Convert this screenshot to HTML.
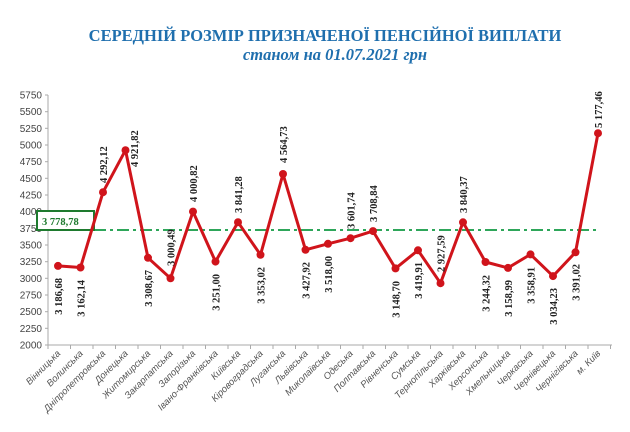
<!DOCTYPE html>
<html><head><meta charset="utf-8"><style>
html,body{margin:0;padding:0;background:#fff;width:630px;height:432px;overflow:hidden}
svg{display:block}
.t{font-family:"Liberation Serif",serif;font-weight:bold;fill:#1f6fae;text-anchor:middle}
.yl{font-family:"Liberation Sans",sans-serif;font-size:10px;fill:#444;text-anchor:end}
.xl{font-family:"Liberation Sans",sans-serif;font-size:9.5px;font-style:italic;fill:#555;text-anchor:end}
.v{font-family:"Liberation Serif",serif;font-size:10.5px;font-weight:bold;fill:#222}
</style></head><body>
<svg width="630" height="432" viewBox="0 0 630 432">
<text class="t" x="325" y="41" font-size="16.5">СЕРЕДНІЙ РОЗМІР ПРИЗНАЧЕНОЇ ПЕНСІЙНОЇ ВИПЛАТИ</text>
<text class="t" x="335" y="60" font-size="16.5" font-style="italic">станом на 01.07.2021 грн</text>

<g stroke="#aaa" stroke-width="1">
<line x1="48" y1="95" x2="48" y2="345"/>
<line x1="48" y1="345" x2="612" y2="345"/>
<line x1="45" y1="95" x2="48" y2="95"/><line x1="45" y1="111.7" x2="48" y2="111.7"/><line x1="45" y1="128.3" x2="48" y2="128.3"/><line x1="45" y1="145" x2="48" y2="145"/><line x1="45" y1="161.7" x2="48" y2="161.7"/><line x1="45" y1="178.3" x2="48" y2="178.3"/><line x1="45" y1="195" x2="48" y2="195"/><line x1="45" y1="211.7" x2="48" y2="211.7"/><line x1="45" y1="228.3" x2="48" y2="228.3"/><line x1="45" y1="245" x2="48" y2="245"/><line x1="45" y1="261.7" x2="48" y2="261.7"/><line x1="45" y1="278.3" x2="48" y2="278.3"/><line x1="45" y1="295" x2="48" y2="295"/><line x1="45" y1="311.7" x2="48" y2="311.7"/><line x1="45" y1="328.3" x2="48" y2="328.3"/><line x1="45" y1="345" x2="48" y2="345"/>
</g>
<g stroke="#aaa" stroke-width="1">
<line x1="48" y1="345" x2="48" y2="349"/><line x1="70.5" y1="345" x2="70.5" y2="349"/><line x1="93" y1="345" x2="93" y2="349"/><line x1="115.5" y1="345" x2="115.5" y2="349"/><line x1="138" y1="345" x2="138" y2="349"/><line x1="160.5" y1="345" x2="160.5" y2="349"/><line x1="183" y1="345" x2="183" y2="349"/><line x1="205.5" y1="345" x2="205.5" y2="349"/><line x1="228" y1="345" x2="228" y2="349"/><line x1="250.5" y1="345" x2="250.5" y2="349"/><line x1="273" y1="345" x2="273" y2="349"/><line x1="295.5" y1="345" x2="295.5" y2="349"/><line x1="318" y1="345" x2="318" y2="349"/><line x1="340.5" y1="345" x2="340.5" y2="349"/><line x1="363" y1="345" x2="363" y2="349"/><line x1="385.5" y1="345" x2="385.5" y2="349"/><line x1="408" y1="345" x2="408" y2="349"/><line x1="430.5" y1="345" x2="430.5" y2="349"/><line x1="453" y1="345" x2="453" y2="349"/><line x1="475.5" y1="345" x2="475.5" y2="349"/><line x1="498" y1="345" x2="498" y2="349"/><line x1="520.5" y1="345" x2="520.5" y2="349"/><line x1="543" y1="345" x2="543" y2="349"/><line x1="565.5" y1="345" x2="565.5" y2="349"/><line x1="588" y1="345" x2="588" y2="349"/><line x1="610.5" y1="345" x2="610.5" y2="349"/>
</g>
<g class="yl">
<text x="42" y="98.5">5750</text><text x="42" y="115.2">5500</text><text x="42" y="131.8">5250</text><text x="42" y="148.5">5000</text><text x="42" y="165.2">4750</text><text x="42" y="181.8">4500</text><text x="42" y="198.5">4250</text><text x="42" y="215.2">4000</text><text x="42" y="231.8">3750</text><text x="42" y="248.5">3500</text><text x="42" y="265.2">3250</text><text x="42" y="281.8">3000</text><text x="42" y="298.5">2750</text><text x="42" y="315.2">2500</text><text x="42" y="331.8">2250</text><text x="42" y="348.5">2000</text>
</g>

<line x1="48" y1="230" x2="600" y2="230" stroke="#2ea65a" stroke-width="2" stroke-dasharray="12,4,3,4"/>
<rect x="37" y="211" width="57" height="19" fill="#fff" stroke="#1e7a2e" stroke-width="2"/>
<text x="42" y="225" font-family="Liberation Serif,serif" font-size="10.5" font-weight="bold" fill="#1e7a2e">3 778,78</text>

<polyline fill="none" stroke="#d0141b" stroke-width="3" stroke-linejoin="round" points="58,265.9 80.5,267.5 103,192.2 125.5,150.2 148,257.8 170.5,278.3 193,211.6 215.5,261.6 238,222.2 260.5,254.8 283,174 305.5,249.8 328,243.8 350.5,238.2 373,231.1 395.5,268.4 418,250.3 440.5,283.2 463,222.3 485.5,262 508,267.9 530.5,254.4 553,276.1 575.5,252.3 598,133.2"/>
<g fill="#d0141b">
<circle cx="58" cy="265.9" r="4"/><circle cx="80.5" cy="267.5" r="4"/><circle cx="103" cy="192.2" r="4"/><circle cx="125.5" cy="150.2" r="4"/><circle cx="148" cy="257.8" r="4"/><circle cx="170.5" cy="278.3" r="4"/><circle cx="193" cy="211.6" r="4"/><circle cx="215.5" cy="261.6" r="4"/><circle cx="238" cy="222.2" r="4"/><circle cx="260.5" cy="254.8" r="4"/><circle cx="283" cy="174" r="4"/><circle cx="305.5" cy="249.8" r="4"/><circle cx="328" cy="243.8" r="4"/><circle cx="350.5" cy="238.2" r="4"/><circle cx="373" cy="231.1" r="4"/><circle cx="395.5" cy="268.4" r="4"/><circle cx="418" cy="250.3" r="4"/><circle cx="440.5" cy="283.2" r="4"/><circle cx="463" cy="222.3" r="4"/><circle cx="485.5" cy="262" r="4"/><circle cx="508" cy="267.9" r="4"/><circle cx="530.5" cy="254.4" r="4"/><circle cx="553" cy="276.1" r="4"/><circle cx="575.5" cy="252.3" r="4"/><circle cx="598" cy="133.2" r="4"/>
</g>

<g class="v">
<text transform="translate(62,278) rotate(-90)" text-anchor="end">3 186,68</text>
<text transform="translate(84.5,280) rotate(-90)" text-anchor="end">3 162,14</text>
<text transform="translate(107,183) rotate(-90)" text-anchor="start">4 292,12</text>
<text transform="translate(138,167) rotate(-90)" text-anchor="start">4 921,82</text>
<text transform="translate(152,270) rotate(-90)" text-anchor="end">3 308,67</text>
<text transform="translate(174.5,266) rotate(-90)" text-anchor="start">3 000,49</text>
<text transform="translate(197,202) rotate(-90)" text-anchor="start">4 000,82</text>
<text transform="translate(219.5,274) rotate(-90)" text-anchor="end">3 251,00</text>
<text transform="translate(242,213) rotate(-90)" text-anchor="start">3 841,28</text>
<text transform="translate(264.5,267) rotate(-90)" text-anchor="end">3 353,02</text>
<text transform="translate(287,163) rotate(-90)" text-anchor="start">4 564,73</text>
<text transform="translate(309.5,262) rotate(-90)" text-anchor="end">3 427,92</text>
<text transform="translate(332,256) rotate(-90)" text-anchor="end">3 518,00</text>
<text transform="translate(354.5,229) rotate(-90)" text-anchor="start">3 601,74</text>
<text transform="translate(377,222) rotate(-90)" text-anchor="start">3 708,84</text>
<text transform="translate(399.5,281) rotate(-90)" text-anchor="end">3 148,70</text>
<text transform="translate(422,262) rotate(-90)" text-anchor="end">3 419,91</text>
<text transform="translate(444.5,272) rotate(-90)" text-anchor="start">2 927,59</text>
<text transform="translate(467,213) rotate(-90)" text-anchor="start">3 840,37</text>
<text transform="translate(489.5,275) rotate(-90)" text-anchor="end">3 244,32</text>
<text transform="translate(512,280) rotate(-90)" text-anchor="end">3 158,99</text>
<text transform="translate(534.5,267) rotate(-90)" text-anchor="end">3 358,91</text>
<text transform="translate(557,288) rotate(-90)" text-anchor="end">3 034,23</text>
<text transform="translate(579.5,264) rotate(-90)" text-anchor="end">3 391,02</text>
<text transform="translate(602,128) rotate(-90)" text-anchor="start">5 177,46</text>
</g>

<g class="xl">
<text transform="translate(61,354) rotate(-45)">Вінницька</text>
<text transform="translate(83.5,354) rotate(-45)">Волинська</text>
<text transform="translate(106,354) rotate(-45)">Дніпропетровська</text>
<text transform="translate(128.5,354) rotate(-45)">Донецька</text>
<text transform="translate(151,354) rotate(-45)">Житомирська</text>
<text transform="translate(173.5,354) rotate(-45)">Закарпатська</text>
<text transform="translate(196,354) rotate(-45)">Запорізька</text>
<text transform="translate(218.5,354) rotate(-45)">Івано-Франківська</text>
<text transform="translate(241,354) rotate(-45)">Київська</text>
<text transform="translate(263.5,354) rotate(-45)">Кіровоградська</text>
<text transform="translate(286,354) rotate(-45)">Луганська</text>
<text transform="translate(308.5,354) rotate(-45)">Львівська</text>
<text transform="translate(331,354) rotate(-45)">Миколаївська</text>
<text transform="translate(353.5,354) rotate(-45)">Одеська</text>
<text transform="translate(376,354) rotate(-45)">Полтавська</text>
<text transform="translate(398.5,354) rotate(-45)">Рівненська</text>
<text transform="translate(421,354) rotate(-45)">Сумська</text>
<text transform="translate(443.5,354) rotate(-45)">Тернопільська</text>
<text transform="translate(466,354) rotate(-45)">Харківська</text>
<text transform="translate(488.5,354) rotate(-45)">Херсонська</text>
<text transform="translate(511,354) rotate(-45)">Хмельницька</text>
<text transform="translate(533.5,354) rotate(-45)">Черкаська</text>
<text transform="translate(556,354) rotate(-45)">Чернівецька</text>
<text transform="translate(578.5,354) rotate(-45)">Чернігівська</text>
<text transform="translate(601,354) rotate(-45)">м. Київ</text>
</g>
</svg>
</body></html>
